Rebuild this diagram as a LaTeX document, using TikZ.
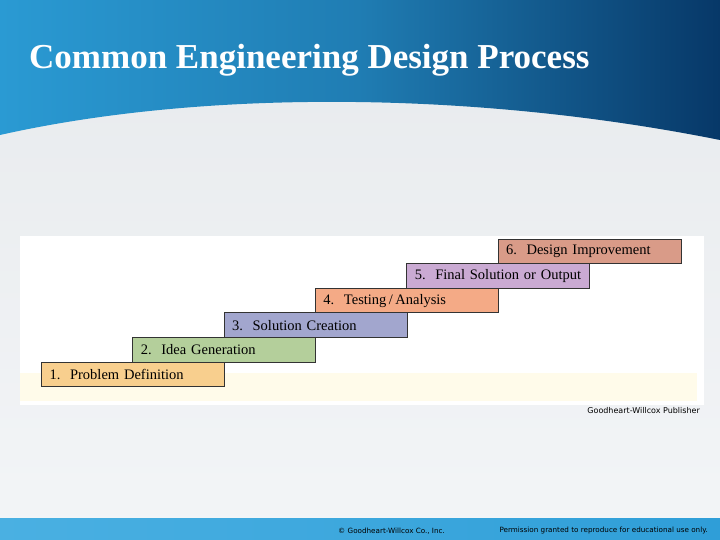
\documentclass[tikz,border=0pt]{standalone}
\usepackage{fontspec}
\setmainfont{Liberation Serif}
\newfontfamily\notefont{DejaVu Sans}
\usepackage{xcolor}
\definecolor{SkyBlue}{HTML}{2A9AD3}
\definecolor{NavyBlue}{HTML}{073868}
\definecolor{PaleGrey}{HTML}{E7EAED}
\definecolor{LightGrey}{HTML}{F3F5F7}
\definecolor{BarLeft}{HTML}{4AB0E2}
\definecolor{BarRight}{HTML}{2F9ED8}
\definecolor{PaleCream}{HTML}{FFFBEA}
\definecolor{EdgeGrey}{HTML}{333333}
\definecolor{StepOne}{HTML}{F8CF8E}
\definecolor{StepTwo}{HTML}{B4CF9B}
\definecolor{StepThree}{HTML}{A2A6CE}
\definecolor{StepFour}{HTML}{F4AA86}
\definecolor{StepFive}{HTML}{CAAAD3}
\definecolor{StepSix}{HTML}{D99B88}
\usetikzlibrary{calc,positioning}
\newcommand\StepW{183pt}
\newcommand\StepH{24.6pt}
\newcommand\StepDx{91.3}
\newcommand\StepDy{24.6}
\newcommand\BaseX{41}
\newcommand\BaseY{361.5}
\newcommand\StepFont{\fontsize{14.5}{14.5}\selectfont\spaceskip=.21em}
\tikzstyle{stair}=[rectangle,draw=EdgeGrey,line width=1.1pt,anchor=north west,
                   text width=\StepW-16pt,align=left,inner xsep=8pt,inner ysep=0pt,
                   minimum height=\StepH,font=\StepFont]
\tikzstyle{note}=[inner sep=0pt,font=\notefont\fontsize{7.2}{7.2}\selectfont]

\begin{document}
\begin{tikzpicture}[x=1pt,y=-1pt]
      \useasboundingbox (0,0) rectangle (720,540);
      % background
      \shade[top color=PaleGrey,bottom color=LightGrey] (0,0) rectangle (720,540);
      \shade[left color=SkyBlue,right color=NavyBlue,middle color=SkyBlue!70!NavyBlue]
            (0,0) -- (720,0) -- (720,140) .. controls (470,90) and (200,90) .. (0,135) -- cycle;
      \shade[left color=BarLeft,right color=BarRight] (0,518) rectangle (720,540);
      \node[anchor=base west,inner sep=0pt,text=white,font=\bfseries\fontsize{35}{35}\selectfont]
            (title) at (29,69) {Common Engineering Design Process};
      % picture panel
      \fill[white] (20,236) rectangle (704,405);
      \fill[PaleCream] (20,373) rectangle (697,401);
      \node[stair,fill=StepOne] (s1) at (\BaseX+\StepDx*0,\BaseY-\StepDy*0) {\mbox{1.\ \ Problem Definition}};
      \node[stair,fill=StepTwo] (s2) at (\BaseX+\StepDx*1,\BaseY-\StepDy*1) {\mbox{2.\ \ Idea Generation}};
      \node[stair,fill=StepThree] (s3) at (\BaseX+\StepDx*2,\BaseY-\StepDy*2) {\mbox{3.\ \ Solution Creation}};
      \node[stair,fill=StepFour] (s4) at (\BaseX+\StepDx*3,\BaseY-\StepDy*3) {\mbox{4.\ \ Testing\,/\,Analysis}};
      \node[stair,fill=StepFive] (s5) at (\BaseX+\StepDx*4,\BaseY-\StepDy*4) {\mbox{5.\ \ Final Solution or Output}};
      \node[stair,fill=StepSix] (s6) at (\BaseX+\StepDx*5,\BaseY-\StepDy*5) {\mbox{6.\ \ Design Improvement}};
      \node[note,anchor=east,font=\notefont\fontsize{8}{8}\selectfont] (credit) at (700,411) {Goodheart-Willcox Publisher};
      % footer
      \node[note,anchor=west] (copy) at (338,531) {\textcopyright\ Goodheart-Willcox Co., Inc.};
      \node[note,anchor=east] (perm) at (708,531) {Permission granted to reproduce for educational use only.};
   \end{tikzpicture}
\end{document}
